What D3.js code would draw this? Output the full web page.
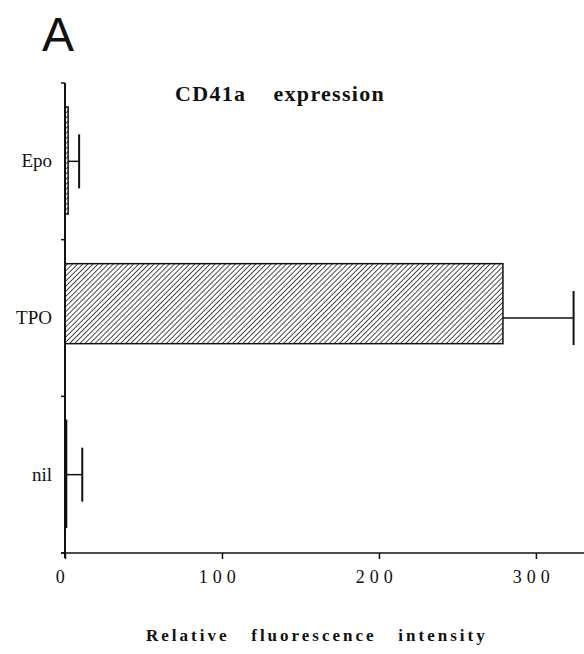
<!DOCTYPE html>
<html>
<head>
<meta charset="utf-8">
<script src="https://cdn.jsdelivr.net/npm/d3@7"></script>
<style>
  body { margin: 0; background: #fff; }
  svg text { font-family: "Liberation Serif", "Times New Roman", serif; fill: #111; }
</style>
</head>
<body>
<svg id="chart" width="584" height="654"></svg>
<script>
// data
var categories = ["Epo", "TPO", "nil"];
var values = [2, 279, 1];
var errors = [7, 45, 10];
var xTicks = [0, 100, 200, 300];

var svg = d3.select("#chart"),
    plotLeft = 65, plotRight = 583,
    plotTop = 83, plotBottom = 553;

var xScale = d3.scaleLinear().domain([0, 330]).range([plotLeft, plotRight]);
var yScale = d3.scaleBand().domain(categories).range([plotTop, plotBottom]).padding(0);

// bar heights differ a bit in the original
var barH = function(d, i) { return categories[i] === "TPO" ? 80 : 107; };
var barTop = 24;

var defs = svg.append("defs");
var pat = defs.append("pattern")
   .attr("id", "hatch")
   .attr("patternUnits", "userSpaceOnUse")
   .attr("width", 3.6).attr("height", 3.6)
   .attr("patternTransform", "rotate(45)");
pat.append("rect").attr("width", 3.6).attr("height", 3.6).attr("fill", "#fff");
pat.append("line")
   .attr("x1", 0).attr("y1", 0).attr("x2", 0).attr("y2", 3.6)
   .attr("stroke", "#222").attr("stroke-width", 1.6);

// panel letter
svg.append("text")
   .attr("x", 42).attr("y", 51)
   .style("font-family", "'Liberation Sans', Arial, sans-serif")
   .attr("font-size", "48px")
   .text("A");

// title
svg.append("text")
   .attr("x", 175).attr("y", 101)
   .attr("font-size", "22px")
   .attr("font-weight", "bold")
   .style("letter-spacing", "1.3px")
   .style("white-space", "pre")
   .text("CD41a    expression");

// bars
var g = svg.append("g");
g.selectAll("rect.bar")
   .data(values)
   .enter()
   .append("rect")
   .attr("class", "bar")
   .attr("x", xScale(0))
   .attr("y", function(d, i) { return yScale(categories[i]) + barTop; })
   .attr("width", function(d) { return xScale(d) - xScale(0); })
   .attr("height", barH)
   .attr("fill", "url(#hatch)")
   .attr("stroke", "#111")
   .attr("stroke-width", 1.5);

// error bars
var cy = function(i) { return yScale(categories[i]) + yScale.bandwidth() / 2; };
g.selectAll("line.whisker")
   .data(values)
   .enter()
   .append("line")
   .attr("class", "whisker")
   .attr("x1", function(d) { return xScale(d); })
   .attr("x2", function(d, i) { return xScale(d + errors[i]); })
   .attr("y1", function(d, i) { return cy(i); })
   .attr("y2", function(d, i) { return cy(i); })
   .attr("stroke", "#111").attr("stroke-width", 1.5);

g.selectAll("line.cap")
   .data(values)
   .enter()
   .append("line")
   .attr("class", "cap")
   .attr("x1", function(d, i) { return xScale(d + errors[i]); })
   .attr("x2", function(d, i) { return xScale(d + errors[i]); })
   .attr("y1", function(d, i) { return cy(i) - 27; })
   .attr("y2", function(d, i) { return cy(i) + 27; })
   .attr("stroke", "#111").attr("stroke-width", 2);

// y axis
var yAxis = svg.append("g");
yAxis.append("line")
   .attr("x1", plotLeft).attr("x2", plotLeft)
   .attr("y1", plotTop).attr("y2", plotBottom + 5)
   .attr("stroke", "#111").attr("stroke-width", 2);
var yBounds = categories.map(function(c) { return yScale(c); }).concat([plotBottom]);
yAxis.selectAll("line.ytick")
   .data(yBounds)
   .enter()
   .append("line")
   .attr("class", "ytick")
   .attr("x1", plotLeft - 4).attr("x2", plotLeft)
   .attr("y1", function(d) { return d; })
   .attr("y2", function(d) { return d; })
   .attr("stroke", "#111").attr("stroke-width", 1.5);
yAxis.selectAll("text")
   .data(categories)
   .enter()
   .append("text")
   .attr("x", 52)
   .attr("y", function(c) { return yScale(c) + yScale.bandwidth() / 2 + 6; })
   .attr("text-anchor", "end")
   .attr("font-size", "19px")
   .text(function(c) { return c; });

// x axis
var xAxis = svg.append("g")
   .attr("transform", "translate(0," + plotBottom + ")")
   .call(d3.axisBottom(xScale).tickValues(xTicks).tickSize(6).tickPadding(11));
xAxis.select(".domain").remove();
xAxis.append("line")
   .attr("x1", plotLeft - 4).attr("x2", 584)
   .attr("y1", 0).attr("y2", 0)
   .attr("stroke", "#111").attr("stroke-width", 1.5);
xAxis.selectAll(".tick line").attr("stroke", "#111").attr("stroke-width", 1.5);
xAxis.selectAll(".tick text")
   .attr("font-size", "18px")
   .attr("font-family", "'Liberation Serif', serif")
   .attr("fill", "#111")
   .style("letter-spacing", "5px")
   .attr("dx", "-0.15em");

svg.append("text")
   .attr("x", 146).attr("y", 641)
   .attr("font-size", "17px")
   .attr("font-weight", "bold")
   .style("letter-spacing", "3px")
   .style("white-space", "pre")
   .text("Relative   fluorescence   intensity");
</script>
</body>
</html>
